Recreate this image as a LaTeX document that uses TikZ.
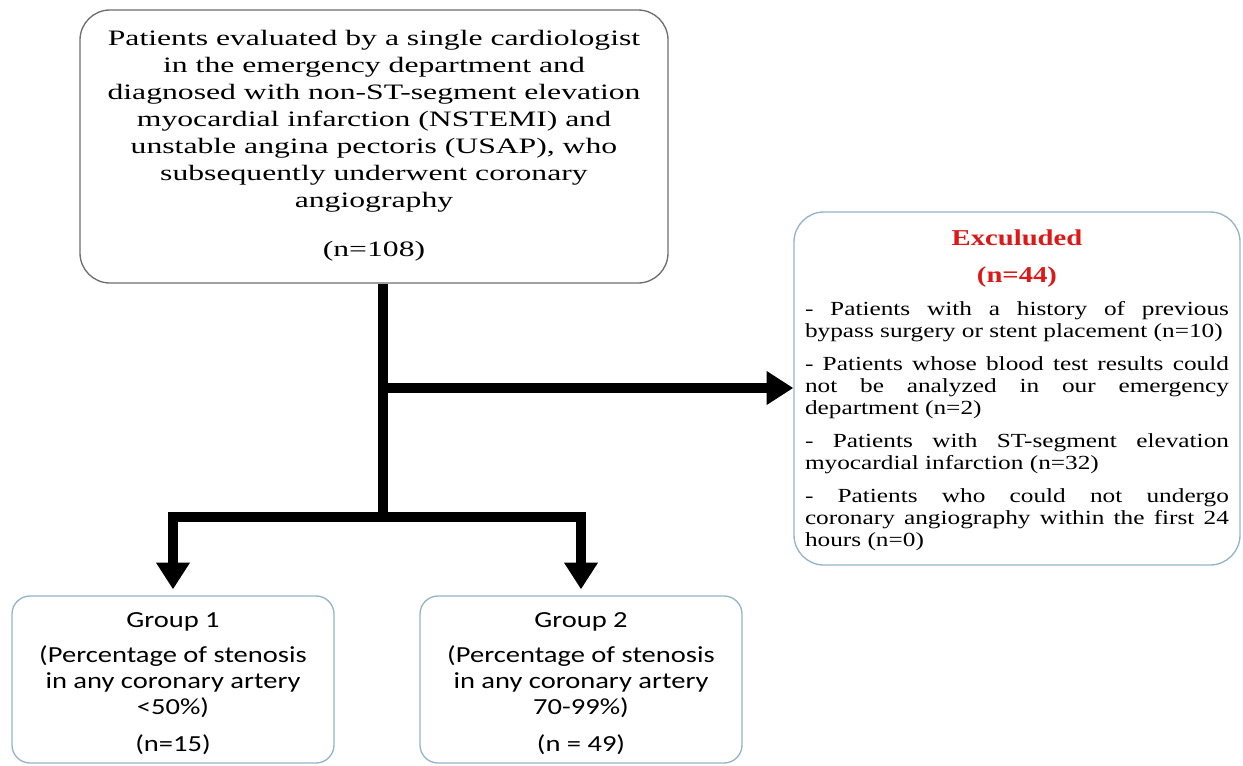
\documentclass[tikz,border=0pt]{standalone}
\usepackage{fontspec}
\setmainfont{Liberation Serif}
\newfontfamily\topfont[FakeStretch=1.44]{Liberation Serif}
\newfontfamily\exfont[FakeStretch=1.265]{Liberation Serif}
\newfontfamily\grpfont[FakeStretch=1.24]{Carlito}
\usetikzlibrary{arrows.meta}
\definecolor{topgray}{RGB}{110,110,110}
\definecolor{boxblue}{RGB}{150,180,200}
\definecolor{exred}{RGB}{220,25,25}
\tikzset{
  topbox/.style={draw=topgray, line width=1pt, rounded corners=22.5pt, inner sep=0pt},
  exbox/.style={draw=boxblue, line width=1pt, rounded corners=22.5pt, inner sep=0pt},
  grpbox/.style={draw=boxblue, line width=1pt, rounded corners=13.5pt, inner sep=0pt},
  thickline/.style={draw=black, line width=7.5pt, line join=miter},
  bigarrow/.style={-{Triangle[length=20pt,width=24pt]}},
}
\begin{document}
\begin{tikzpicture}[x=0.75pt,y=-0.75pt]
\path[use as bounding box, fill=white] (0,0) rectangle (1243,765);

\node[topbox] (top) at (374,146.5) {\begin{minipage}[c][204.75pt][t]{441pt}\centering
\topfont\fontsize{16.5pt}{20.25pt}\selectfont
\rule{0pt}{26.25pt}Patients evaluated by a single cardiologist\\
in the emergency department and\\
diagnosed with non-ST-segment elevation\\
myocardial infarction (NSTEMI) and\\
unstable angina pectoris (USAP), who\\
subsequently underwent coronary\\
angiography\\[17pt]
(n=108)
\end{minipage}};

\node[exbox] (excl) at (1017,388.5) {\begin{minipage}[c][264.75pt][t]{334.5pt}\centering
\begin{minipage}[t]{318pt}
\parindent0pt\tolerance=10000\hbadness=10000\hyphenpenalty=10000\exhyphenpenalty=10000
\exfont\fontsize{15pt}{16.5pt}\selectfont
\setlength{\parskip}{8.25pt}%
{\centering\bfseries\color{exred}\fontsize{17pt}{27.75pt}\selectfont\rule{0pt}{24.75pt}Exculuded\\(n=44)\par}
- Patients with a history of previous\linebreak bypass surgery or stent placement (n=10)\par
- Patients whose blood test results could\linebreak not be analyzed in our emergency\linebreak department (n=2)\par
- Patients with ST-segment elevation\linebreak myocardial infarction (n=32)\par
- Patients who could not undergo\linebreak coronary angiography within the first 24\linebreak hours (n=0)\par
\end{minipage}
\end{minipage}};

\node[grpbox] (g1) at (173,679.5) {\begin{minipage}[c][125.25pt][t]{241.5pt}\centering
\grpfont\fontsize{17.25pt}{19.5pt}\selectfont
\rule{0pt}{23.25pt}Group 1\\[6.75pt]
(Percentage of stenosis\\
in any coronary artery\\
<50\%)\\[8.25pt]
(n=15)
\end{minipage}};

\node[grpbox] (g2) at (581,679.5) {\begin{minipage}[c][125.25pt][t]{241.5pt}\centering
\grpfont\fontsize{17.25pt}{19.5pt}\selectfont
\rule{0pt}{23.25pt}Group 2\\[6.75pt]
(Percentage of stenosis\\
in any coronary artery\\
70-99\%)\\[8.25pt]
(n = 49)
\end{minipage}};

\coordinate (j1) at (383,388);
\coordinate (j2) at (383,517);

\draw[thickline] (top.south -| j1) -- (j2);
\draw[thickline, bigarrow] (j1) -- (excl.west |- j1);
\draw[thickline, bigarrow, shorten >=4.5pt] (j2) -| (g1.north);
\draw[thickline, bigarrow, shorten >=4.5pt] (j2) -| (g2.north);
\end{tikzpicture}
\end{document}
